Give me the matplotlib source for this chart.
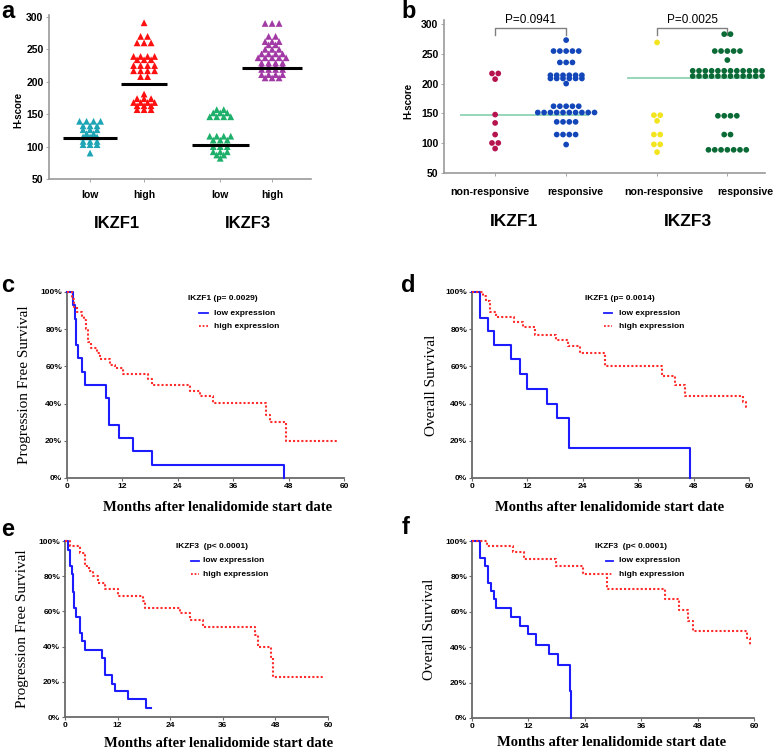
import matplotlib
matplotlib.use('Agg')
import matplotlib.pyplot as plt
import numpy as np
from matplotlib.lines import Line2D
from matplotlib import font_manager as fm
from matplotlib.transforms import blended_transform_factory

# ---------------- data ----------------
# panel a (H-score by IKZF expression group)
a_groups = ['low', 'high', 'low', 'high']
a_ikzf1_low = [139]*4 + [132]*3 + [126]*3 + [120]*2 + [115]*3 + [108]*3 + [103]*3 + [90]
a_ikzf1_high = ([291] + [270]*2 + [260]*3 + [239]*4 + [234]*3 + [225]*4 + [217]*4 + [208]*2
                + [181] + [174]*3 + [168]*4 + [163]*3 + [157]*3)
a_ikzf3_low = [157]*2 + [152]*3 + [146]*4 + [116]*4 + [110]*3 + [100]*3 + [92]*3 + [87]*2 + [82]
a_ikzf3_high = ([290]*3 + [270]*2 + [262]*3 + [257]*2 + [250]*3 + [243]*4 + [237]*5 + [229]*4
                + [224]*4 + [219]*4 + [211]*4 + [206]*3)
a_medians = [113, 197, 103, 221]

# panel b (H-score by response)
b_groups = ['non-responsive', 'responsive', 'non-responsive', 'responsive']
b_ikzf1_nonresp = [217]*2 + [207.5] + [148] + [134] + [114.5] + [100.4]*2 + [91]
b_ikzf1_resp = ([273] + [254.6]*5 + [235.5]*3 + [214]*6 + [208.6]*6 + [200] + [162]*5
                + [151.5]*10 + [135.8]*4 + [114.5]*4 + [97.7])
b_ikzf3_nonresp = [269] + [147]*2 + [137.5] + [114.5]*2 + [98]*2 + [85]
b_ikzf3_resp = ([283]*2 + [254.6]*5 + [239.5] + [221.5]*12 + [212.6]*12 + [146]*4
                + [114.5]*2 + [88.9]*7)
b_medians = [148, 208.7]
b_pvalues = ['P=0.0941', 'P=0.0025']

# Kaplan-Meier curves (months, survival %)
c_low_t = [0, 1.3, 1.7, 2.0, 2.3, 3.3, 4.0, 8.4, 9.0, 9.2, 11.3, 14.3, 18.5, 47.1]
c_low_s = [100, 92.9, 85.7, 71.4, 64.3, 57.1, 50, 42.9, 35.7, 28.6, 21.4, 14.3, 7.1, 0]
c_high_t = [0, 1.0, 1.5, 2.2, 3.2, 3.7, 4.1, 4.6, 5.3, 6.4, 7.1, 9.3, 10.4, 12.2, 17.6, 18.5,
            26.6, 28.8, 31.6, 43.2, 43.9, 47.4, 58.8]
c_high_s = [100, 96, 92, 89, 87, 85, 80, 73, 70, 67, 64, 61, 59, 56, 53, 50, 47, 44, 40.5,
            34, 30, 20, 20]

d_low_t = [0, 1.7, 3.5, 4.7, 8.5, 10.3, 12.0, 16.3, 18.4, 21.0, 47.2]
d_low_s = [100, 86, 79, 71.5, 64, 56, 48, 40, 32, 16, 0]
d_high_t = [0, 2.4, 3.1, 3.8, 5.1, 9.0, 11.1, 13.6, 18.1, 20.8, 23.5, 28.8, 41.1, 44.0, 46.1,
            58.8, 59.4, 59.6]
d_high_s = [100, 98, 95, 89, 86.5, 84, 81, 77, 74, 71, 67, 60, 55, 50, 44, 41, 38, 38]

e_low_t = [0, 0.7, 1.2, 1.6, 1.8, 2.1, 2.5, 3.5, 3.9, 4.6, 8.4, 9.2, 10.7, 11.5, 14.4, 18.5, 19.7]
e_low_s = [100, 95, 86, 81, 71, 62, 57, 48, 43, 38, 33.5, 24, 19, 14.5, 10, 5, 5]
e_high_t = [0, 1.2, 3.5, 4.6, 5.4, 6.5, 7.5, 9.2, 12.2, 17.8, 18.3, 26.3, 28.5, 31.4, 43.4,
            44.1, 46.9, 47.5, 58.9]
e_high_s = [100, 97, 93, 86, 83, 80, 76, 72.5, 69, 66, 62, 59, 55, 51, 46.5, 40, 34, 22.5, 22.5]

f_low_t = [0, 1.6, 2.8, 3.4, 4.1, 4.7, 5.2, 8.3, 10.3, 11.9, 13.6, 16.3, 18.4, 20.9, 21.0]
f_low_s = [100, 90.5, 86, 76, 71.5, 67, 62, 57, 52, 47.5, 41.5, 36, 30, 15, 0]
f_high_t = [0, 3.2, 8.8, 11.0, 17.9, 23.6, 28.7, 41.0, 44.1, 46.0, 47.1, 58.6, 59.1, 59.2]
f_high_s = [100, 97, 94, 90, 86, 81.5, 73, 67.5, 61, 55, 49, 45, 41.5, 41.5]

km_titles = ['IKZF1 (p= 0.0029)', 'IKZF1 (p= 0.0014)', 'IKZF3  (p< 0.0001)', 'IKZF3  (p< 0.0001)']
km_entries = ['low expression', 'high expression']
month_ticks = [0, 12, 24, 36, 48, 60]
surv_ticks = [0, 20, 40, 60, 80, 100]

# ---------------- layout helpers ----------------
W, H = 778, 753
fig = plt.figure(figsize=(W/100, H/100), dpi=100)
plt.rcParams['font.family'] = ['Liberation Sans', 'DejaVu Sans']

def box(l, t, r, b):
    return [l/W, 1-b/H, (r-l)/W, (b-t)/H]

def fx(px):
    return px/W

def fy(py):
    return 1-py/H

def has_font(name):
    try:
        fm.findfont(fm.FontProperties(family=name), fallback_to_default=False)
        return True
    except Exception:
        return False

narrow = 'Liberation Sans Narrow' if has_font('Liberation Sans Narrow') else None

def row_offsets(vals, d_px, xpx):
    vals = np.asarray(vals, dtype=float)
    offs = np.zeros(len(vals))
    for u in np.unique(vals):
        idx = np.where(vals == u)[0]
        n = len(idx)
        offs[idx] = (np.arange(n) - (n-1)/2) * d_px / xpx
    return offs

def style_dot_axes(ax):
    for s in ['top', 'right']:
        ax.spines[s].set_visible(False)
    for s in ['left', 'bottom']:
        ax.spines[s].set_color('#9a9a9a')
        ax.spines[s].set_linewidth(1.2)
    ax.tick_params(length=2, width=0.6, color='#9a9a9a', labelsize=7.5, pad=2)
    for lab in ax.get_yticklabels() + ax.get_xticklabels():
        lab.set_fontweight('bold')

# ---------------- panel a ----------------
axA = fig.add_axes(box(49, 15, 311, 179))
xa = [0, 1, 2.41, 3.37]
a_data = [a_ikzf1_low, a_ikzf1_high, a_ikzf3_low, a_ikzf3_high]
a_cols = ['#1ea5b5', '#ff1010', '#1eb06a', '#a23aa6']
a_half = [0.5, 0.42, 0.53, 0.56]
for x, vals, c in zip(xa, a_data, a_cols):
    axA.scatter(x + row_offsets(vals, 7, 54), vals, marker='^', s=24, color=c,
                edgecolors='none', zorder=3)
for x, m, hw in zip(xa, a_medians, a_half):
    axA.plot([x-hw, x+hw], [m, m], color='black', lw=2.2, zorder=4, solid_capstyle='butt')
axA.set_xlim(-0.76, 4.09)
axA.set_ylim(50, 303)
axA.set_yticks([50, 100, 150, 200, 250, 300])
axA.set_xticks(xa)
axA.set_xticklabels(a_groups)
style_dot_axes(axA)
axA.tick_params(axis='x', pad=6)
axA.set_ylabel('H-score', fontsize=7, fontweight='bold', va='center')
axA.yaxis.set_label_coords(-0.118, 0.42)
fig.text(fx(117), fy(223), 'IKZF1', fontsize=12, fontweight='bold', ha='center', va='center')
fig.text(fx(248), fy(223), 'IKZF3', fontsize=12, fontweight='bold', ha='center', va='center')

# ---------------- panel b ----------------
axB = fig.add_axes(box(444, 20, 765, 173))
xb = [0, 1, 2.28, 3.27]
b_data = [b_ikzf1_nonresp, b_ikzf1_resp, b_ikzf3_nonresp, b_ikzf3_resp]
b_cols = ['#b5144e', '#1346b8', '#f2e41e', '#0b6b36']
for x, vals, c in zip(xb, b_data, b_cols):
    axB.scatter(x + row_offsets(vals, 6.3, 71), vals, marker='o', s=17, color=c,
                edgecolors='none', zorder=3)
axB.plot([xb[0]-0.48, xb[1]+0.31], [b_medians[0]]*2, color='#8fd3b4', lw=1.3, zorder=2)
axB.plot([xb[2]-0.41, xb[3]+0.43], [b_medians[1]]*2, color='#8fd3b4', lw=1.3, zorder=2)
axB.set_xlim(-0.72, 3.80)
axB.set_ylim(50, 306.7)
axB.set_yticks([50, 100, 150, 200, 250, 300])
axB.set_xticks(xb)
axB.set_xticklabels([])
style_dot_axes(axB)
b_label_x = [-0.07, 1.13, 2.37, 3.52]
trB = blended_transform_factory(axB.transData, fig.transFigure)
for lx, lab in zip(b_label_x, b_groups):
    axB.text(lx, fy(192), lab, transform=trB, ha='center', va='center', fontsize=7.7,
             fontweight='bold', clip_on=False)
axB.set_ylabel('H-score', fontsize=7, fontweight='bold', va='center')
axB.yaxis.set_label_coords(-0.112, 0.47)
pfont = dict(fontsize=10.5, family=[narrow, 'DejaVu Sans']) if narrow else dict(fontsize=8.5)
for (x0, x1), p in zip([(xb[0], xb[1]), (xb[2], xb[3])], b_pvalues):
    axB.plot([x0, x0, x1, x1], [281.5, 293, 293, 281.5], color='#808080', lw=1.0, clip_on=False)
    axB.text((x0+x1)/2, 306.5, p, ha='center', va='center', clip_on=False, **pfont)
fig.text(fx(514), fy(222), 'IKZF1', fontsize=12.5, fontweight='bold', ha='center', va='center')
fig.text(fx(688), fy(222), 'IKZF3', fontsize=12.5, fontweight='bold', ha='center', va='center')

# ---------------- KM panels ----------------
serif = ['Liberation Serif', 'DejaVu Serif']

def km(rect, lt, ls_, ht, hs, ylabel, title, xl_coords, yl_x, leg):
    ax = fig.add_axes(rect)
    ax.step(lt, ls_, where='post', color='#1c1cff', lw=1.5, clip_on=False, zorder=3)
    ax.step(ht, hs, where='post', color='#ff2b2b', lw=1.5, ls=(0, (1, 1)), clip_on=False, zorder=4)
    ax.set_xlim(0, 60)
    ax.set_ylim(0, 100)
    ax.set_xticks(month_ticks)
    ax.set_yticks(surv_ticks)
    ax.set_yticklabels([f'{v}%' for v in surv_ticks])
    for s in ['top', 'right']:
        ax.spines[s].set_visible(False)
    for s in ['left', 'bottom']:
        ax.spines[s].set_color('#6a6a6a')
        ax.spines[s].set_linewidth(1.3)
    ax.tick_params(length=2, width=0.8, color='#6a6a6a', labelsize=6, pad=1.5)
    for lab in ax.get_yticklabels() + ax.get_xticklabels():
        lab.set_fontweight('bold')
    ax.set_xlabel('Months after lenalidomide start date', family=serif, fontsize=10.5,
                  fontweight='bold', va='center')
    ax.xaxis.set_label_coords(*xl_coords)
    ax.set_ylabel(ylabel, family=serif, fontsize=11, va='center')
    ax.yaxis.set_label_coords(yl_x, 0.5)
    # legend
    tx, ty, lx0, lx1, ex, r1, r2 = leg
    fig.text(fx(tx), fy(ty), title, fontsize=6, fontweight='bold', va='center')
    fig.add_artist(Line2D([fx(lx0), fx(lx1)], [fy(r1)]*2, color='#1c1cff', lw=1.3))
    fig.add_artist(Line2D([fx(lx0), fx(lx1)], [fy(r2)]*2, color='#ff2b2b', lw=1.3, ls=(0, (1, 1))))
    fig.text(fx(ex), fy(r1), km_entries[0], fontsize=6, fontweight='bold', va='center')
    fig.text(fx(ex), fy(r2), km_entries[1], fontsize=6, fontweight='bold', va='center')
    return ax

km(box(67, 292, 344, 478), c_low_t, c_low_s, c_high_t, c_high_s, 'Progression Free Survival',
   km_titles[0], (0.545, -0.156), -0.152, (188, 299, 199, 208, 214, 313, 326))
km(box(472, 292, 749, 478), d_low_t, d_low_s, d_high_t, d_high_s, 'Overall Survival',
   km_titles[1], (0.498, -0.156), -0.148, (585, 299, 604, 612, 619, 313, 326))
km(box(65, 541, 328, 717), e_low_t, e_low_s, e_high_t, e_high_s, 'Progression Free Survival',
   km_titles[2], (0.582, -0.148), -0.16, (176, 547, 191, 199, 203, 561, 574))
km(box(472, 541, 754, 718), f_low_t, f_low_s, f_high_t, f_high_s, 'Overall Survival',
   km_titles[3], (0.494, -0.141), -0.149, (595, 547, 606, 613, 619, 561, 574))

# panel letters
for lt, (px, py) in zip('abcdef', [(1, 12), (401, 11), (1, 286), (401, 285), (1, 529), (402, 528)]):
    fig.text(fx(px), fy(py), lt, fontsize=17, fontweight='bold', va='center', ha='left')

fig.savefig('out.png', dpi=100)
